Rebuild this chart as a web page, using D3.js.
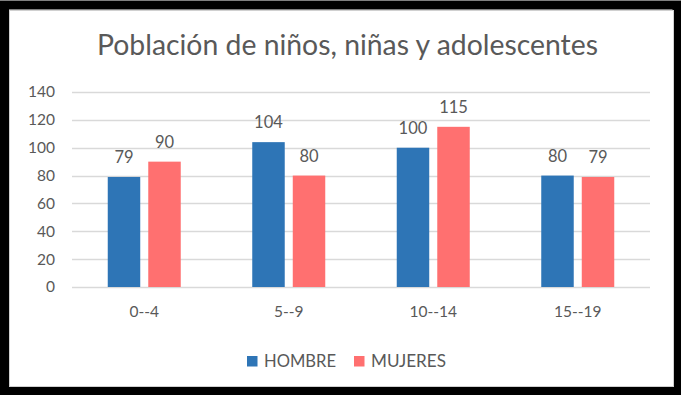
<!DOCTYPE html>
<html>
<head>
<meta charset="utf-8">
<script src="https://cdn.jsdelivr.net/npm/d3@7/dist/d3.min.js"></script>
<style>
  html, body { margin: 0; padding: 0; background: #ffffff; }
  svg { display: block; font-family: Lato, "Open Sans", sans-serif; }
</style>
</head>
<body>
<svg id="chart" width="681" height="395"></svg>
<script>
// Population by age group and sex
const categories = ["0--4", "5--9", "10--14", "15--19"];
const seriesNames = ["HOMBRE", "MUJERES"];
const hombre = [79, 104, 100, 80];
const mujeres = [90, 80, 115, 79];
const yTicks = [0, 20, 40, 60, 80, 100, 120, 140];
const title = "Población de niños, niñas y adolescentes";

const colors = { HOMBRE: "#2E75B6", MUJERES: "#FF7070" };
const textColor = "#595959";
const gridColor = "#D9D9D9";

const svg = d3.select("#chart");

// scale a text element's font so it spans the given width
function fitWidth(sel, width) {
  const node = sel.node();
  const fs = parseFloat(sel.style("font-size"));
  const w = node.getComputedTextLength();
  if (w > 0) sel.style("font-size", (fs * width / w).toFixed(2) + "px");
}

// outer black frame and inner chart area
svg.append("rect")
  .attr("x", 4.5).attr("y", 5).attr("width", 672.5).attr("height", 385.5)
  .attr("fill", "#fff").attr("stroke", "#000").attr("stroke-width", 9);
svg.append("rect")
  .attr("x", 9.5).attr("y", 10.5).attr("width", 664).attr("height", 376)
  .attr("fill", "#fff").attr("stroke", "#d0d0d0").attr("stroke-width", 1);

const plot = { left: 72, right: 650, top: 92, bottom: 287 };

const x0 = d3.scaleBand()
  .domain(categories)
  .range([plot.left, plot.right])
  .paddingInner(0.4948)
  .paddingOuter(0.2474);

const x1 = d3.scaleBand()
  .domain(seriesNames)
  .range([0, x0.bandwidth()])
  .paddingInner(0.198);

const y = d3.scaleLinear().domain([0, 140]).range([plot.bottom, plot.top]);

// horizontal gridlines
svg.append("g")
  .selectAll("line")
  .data(yTicks)
  .join("line")
  .attr("x1", plot.left).attr("x2", plot.right)
  .attr("y1", d => Math.round(y(d)) + 0.5).attr("y2", d => Math.round(y(d)) + 0.5)
  .attr("stroke", gridColor).attr("stroke-width", 1.3);

// y axis tick labels
const yAxis = d3.axisLeft(y).tickValues(yTicks).tickSize(0).tickPadding(0);
const gy = svg.append("g").attr("transform", `translate(${plot.left - 17},0)`).call(yAxis);
gy.select(".domain").remove();
gy.selectAll("text")
  .attr("fill", textColor).style("font-size", "15.5px").style("font-family", "Lato, sans-serif");

// x axis category labels
const xAxis = d3.axisBottom(x0).tickSize(0).tickPadding(0);
const gx = svg.append("g").attr("transform", `translate(0,${plot.bottom + 19})`).call(xAxis);
gx.select(".domain").remove();
gx.selectAll("text")
  .attr("fill", textColor).style("font-size", "15.5px").style("font-family", "Lato, sans-serif");

// bars
const rows = categories.map((c, i) => ({ cat: c, values: [
  { key: "HOMBRE", value: hombre[i] },
  { key: "MUJERES", value: mujeres[i] }
]}));

const groups = svg.append("g")
  .selectAll("g")
  .data(rows)
  .join("g")
  .attr("transform", d => `translate(${x0(d.cat)},0)`);

groups.selectAll("rect")
  .data(d => d.values)
  .join("rect")
  .attr("x", d => x1(d.key))
  .attr("y", d => y(d.value))
  .attr("width", x1.bandwidth())
  .attr("height", d => y(0) - y(d.value))
  .attr("fill", d => colors[d.key]);

// value labels above each bar
groups.selectAll("text")
  .data(d => d.values)
  .join("text")
  .attr("x", d => x1(d.key) + x1.bandwidth() / 2)
  .attr("y", d => y(d.value) - 14)
  .attr("text-anchor", "middle")
  .attr("fill", textColor)
  .style("font-size", "16.5px")
  .text(d => d.value);

// title
const titleText = svg.append("text")
  .attr("x", 347.5).attr("y", 55)
  .attr("text-anchor", "middle")
  .attr("fill", textColor)
  .style("font-size", "25px")
  .text(title);
fitWidth(titleText, 501);

// legend
const legend = svg.append("g").attr("transform", "translate(247,356)");
const legendItems = [{ key: "HOMBRE", dx: 0, w: 72 }, { key: "MUJERES", dx: 107, w: 75 }];
const li = legend.selectAll("g").data(legendItems).join("g")
  .attr("transform", d => `translate(${d.dx},0)`);
li.append("rect").attr("width", 10.5).attr("height", 10.5).attr("fill", d => colors[d.key]);
li.append("text")
  .attr("x", 17).attr("y", 11)
  .attr("fill", textColor)
  .style("font-size", "15px")
  .text(d => d.key)
  .each(function(d) { fitWidth(d3.select(this), d.w); });
</script>
</body>
</html>
